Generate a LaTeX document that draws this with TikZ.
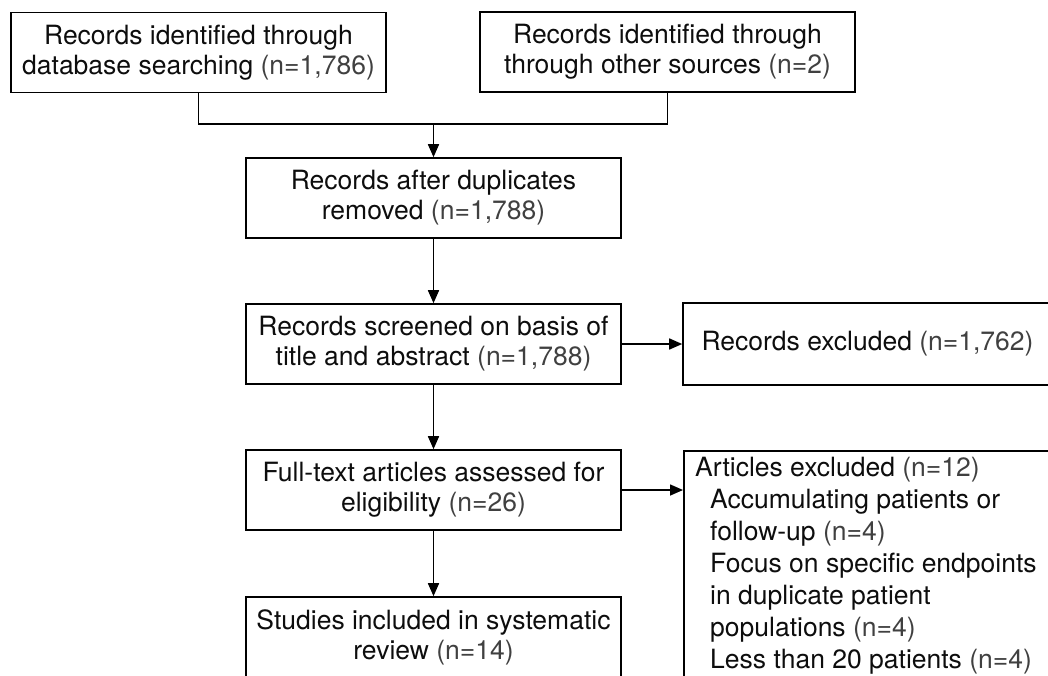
\documentclass[tikz,border=0pt]{standalone}
\usepackage{fontspec}
\setmainfont{TeX Gyre Heros}
\usetikzlibrary{arrows.meta}
\definecolor{ngray}{gray}{0.25}
\definecolor{txt}{gray}{0.05}
\newcommand{\nn}[1]{\textcolor{ngray}{#1}}
\begin{document}
\begin{tikzpicture}[x=1pt,y=-1pt,
  ln/.style={line width=1.6pt},
  arr/.style={line width=1.6pt,-{Triangle[length=13pt,width=11pt]}},
  box/.style={draw, line width=1.6pt, minimum width=375pt, minimum height=80pt,
    inner sep=0pt, align=center, text=txt, font=\fontsize{26.5}{30}\selectfont}]
\useasboundingbox (0,0) rectangle (1048,675);
\clip (0,0) rectangle (1048,675);
\node[box] (b1) at (198.5,52.5) {Records identified through\\database searching \nn{(n=1,786)}};
\node[box] (b2) at (667.5,52) {Records identified through\\through other sources \nn{(n=2)}};
\node[box] (b3) at (433.5,198) {Records after duplicates\\removed \nn{(n=1,788)}};
\node[box] (b4) at (433.5,344) {Records screened on basis of\\title and abstract \nn{(n=1,788)}};
\node[box, minimum width=369pt, minimum height=82pt] (e1) at (867.5,344) {Records excluded \nn{(n=1,762)}};
\node[box] (b5) at (433.5,490) {Full-text articles assessed for\\eligibility \nn{(n=26)}};
\node[box] (b6) at (433.5,637) {Studies included in systematic\\review \nn{(n=14)}};
\node[box, anchor=north west, minimum width=400pt, minimum height=260pt] (e2) at (683,450) {};
\node[anchor=north west, inner sep=0pt, align=left, text=txt, font=\fontsize{26.5}{32}\selectfont] (e2t) at (695,457)
  {Articles excluded \nn{(n=12)}\\
   \hspace*{15pt}Accumulating patients or\\
   \hspace*{15pt}follow-up \nn{(n=4)}\\
   \hspace*{15pt}Focus on specific endpoints\\
   \hspace*{15pt}in duplicate patient\\
   \hspace*{15pt}populations \nn{(n=4)}\\
   \hspace*{15pt}Less than 20 patients \nn{(n=4)}};
\coordinate (j) at (433.5,124);
\draw[ln] (b1.south) |- (j) -| (b2.south);
\draw[arr] (j) -- (b3.north);
\draw[arr] (b3.south) -- (b4.north);
\draw[arr] (b4.south) -- (b5.north);
\draw[arr] (b5.south) -- (b6.north);
\draw[arr] (b4.east) -- (e1.west);
\draw[arr] (b5.east) -- (b5.east -| e2.west);
\end{tikzpicture}
\end{document}
